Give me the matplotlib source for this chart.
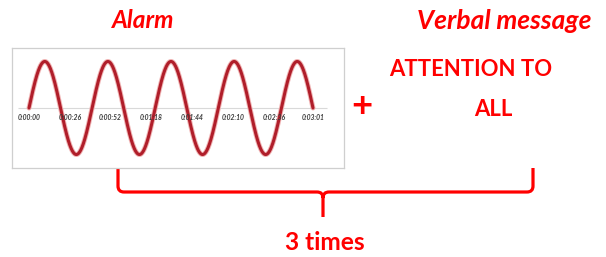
import numpy as np
import matplotlib
matplotlib.use("Agg")
import matplotlib.pyplot as plt
from matplotlib.path import Path
from matplotlib.patches import PathPatch

# ---- data ----
tick_seconds = [0, 26, 52, 78, 104, 130, 156, 181]
tick_labels = ["0:00:00", "0:00:26", "0:00:52", "0:01:18",
               "0:01:44", "0:02:10", "0:02:36", "0:03:01"]
alarm_duration_s = 181
alarm_cycles = 4.5
alarm_amplitude = 1.0

title_left = "Alarm"
title_right = "Verbal message"
message_lines = ["ATTENTION TO", "ALL"]
plus_sign = "+"
repeat_label = "3 times"

RED = "#ff0000"
FONT = ["Lato", "DejaVu Sans"]

W, H = 606, 257
fig = plt.figure(figsize=(W / 100, H / 100), dpi=100)
main = fig.add_axes([0, 0, 1, 1])
main.set_xlim(0, W)
main.set_ylim(H, 0)
main.axis("off")
renderer = fig.canvas.get_renderer()


def fit(txt, width_px):
    txt.set_fontsize(10)
    w = txt.get_window_extent(renderer=renderer).width
    txt.set_fontsize(10 * width_px / w)
    return txt


# ---- inset chart (pixel box 12..344 x 48..168) ----
bx0, bx1, by0, by1 = 12, 344, 48, 168
inset = fig.add_axes([bx0 / W, 1 - by1 / H, (bx1 - bx0) / W, (by1 - by0) / H])
t = np.linspace(0, alarm_duration_s, 800)
wave = alarm_amplitude * np.sin(2 * np.pi * alarm_cycles * t / alarm_duration_s)
sec_per_px = alarm_duration_s / (313 - 29)
inset.set_xlim((bx0 - 29) * sec_per_px, (bx1 - 29) * sec_per_px)
inset.set_ylim(-1.29, 1.29)
inset.hlines(0, (18 - 29) * sec_per_px, (327 - 29) * sec_per_px, color="#d9d9d9", lw=0.8, zorder=1)
inset.plot(t, wave, color="#f0b4b4", lw=3.6, solid_capstyle="round", zorder=2)
inset.plot(t, wave, color="#b01e2a", lw=2.2, solid_capstyle="round", zorder=3)
for s, lab in zip(tick_seconds, tick_labels):
    tx = inset.text(s, -0.2, lab, ha="center", va="center",
                    style="italic", fontweight="bold", color="#3a3a3a", family=FONT, zorder=4)
    fit(tx, 23)
inset.set_xticks([])
inset.set_yticks([])
for sp in inset.spines.values():
    sp.set_color("#cfcfcf")
    sp.set_linewidth(0.9)

# ---- texts ----
fit(main.text(143.5, 21, title_left, ha="center", va="center",
              style="italic", fontweight="bold", color=RED, family=FONT), 62)
fit(main.text(504, 21, title_right, ha="center", va="center",
              style="italic", fontweight="bold", color=RED, family=FONT), 174)
line1 = fit(main.text(471, 70, message_lines[0], ha="center", va="center",
                      fontweight="bold", color=RED, family=FONT), 163)
main.text(493, 109, message_lines[1], ha="center", va="center",
          fontsize=line1.get_fontsize(), fontweight="bold", color=RED, family=FONT)
fit(main.text(362, 106, plus_sign, ha="center", va="center",
              fontweight="bold", color=RED, family=FONT), 21)
fit(main.text(325, 243, repeat_label, ha="center", va="center",
              fontweight="bold", color=RED, family=FONT), 80)

# ---- brace ----
xl, xr, xm = 118, 533, 323
yt, yh, yb, r = 168, 192, 217, 6
verts = [(xl, yt), (xl, yh - r), (xl, yh), (xl + r, yh), (xm - r, yh),
         (xm, yh), (xm, yh + r), (xm, yb),
         (xm, yh + r), (xm, yh), (xm + r, yh), (xr - r, yh),
         (xr, yh), (xr, yh - r), (xr, yt)]
codes = [Path.MOVETO, Path.LINETO, Path.CURVE3, Path.CURVE3, Path.LINETO,
         Path.CURVE3, Path.CURVE3, Path.LINETO,
         Path.MOVETO, Path.CURVE3, Path.CURVE3, Path.LINETO,
         Path.CURVE3, Path.CURVE3, Path.LINETO]
main.add_patch(PathPatch(Path(verts, codes), fill=False, edgecolor=RED, lw=2.3,
                         capstyle="butt", joinstyle="round"))

fig.savefig("out.png", dpi=100)
